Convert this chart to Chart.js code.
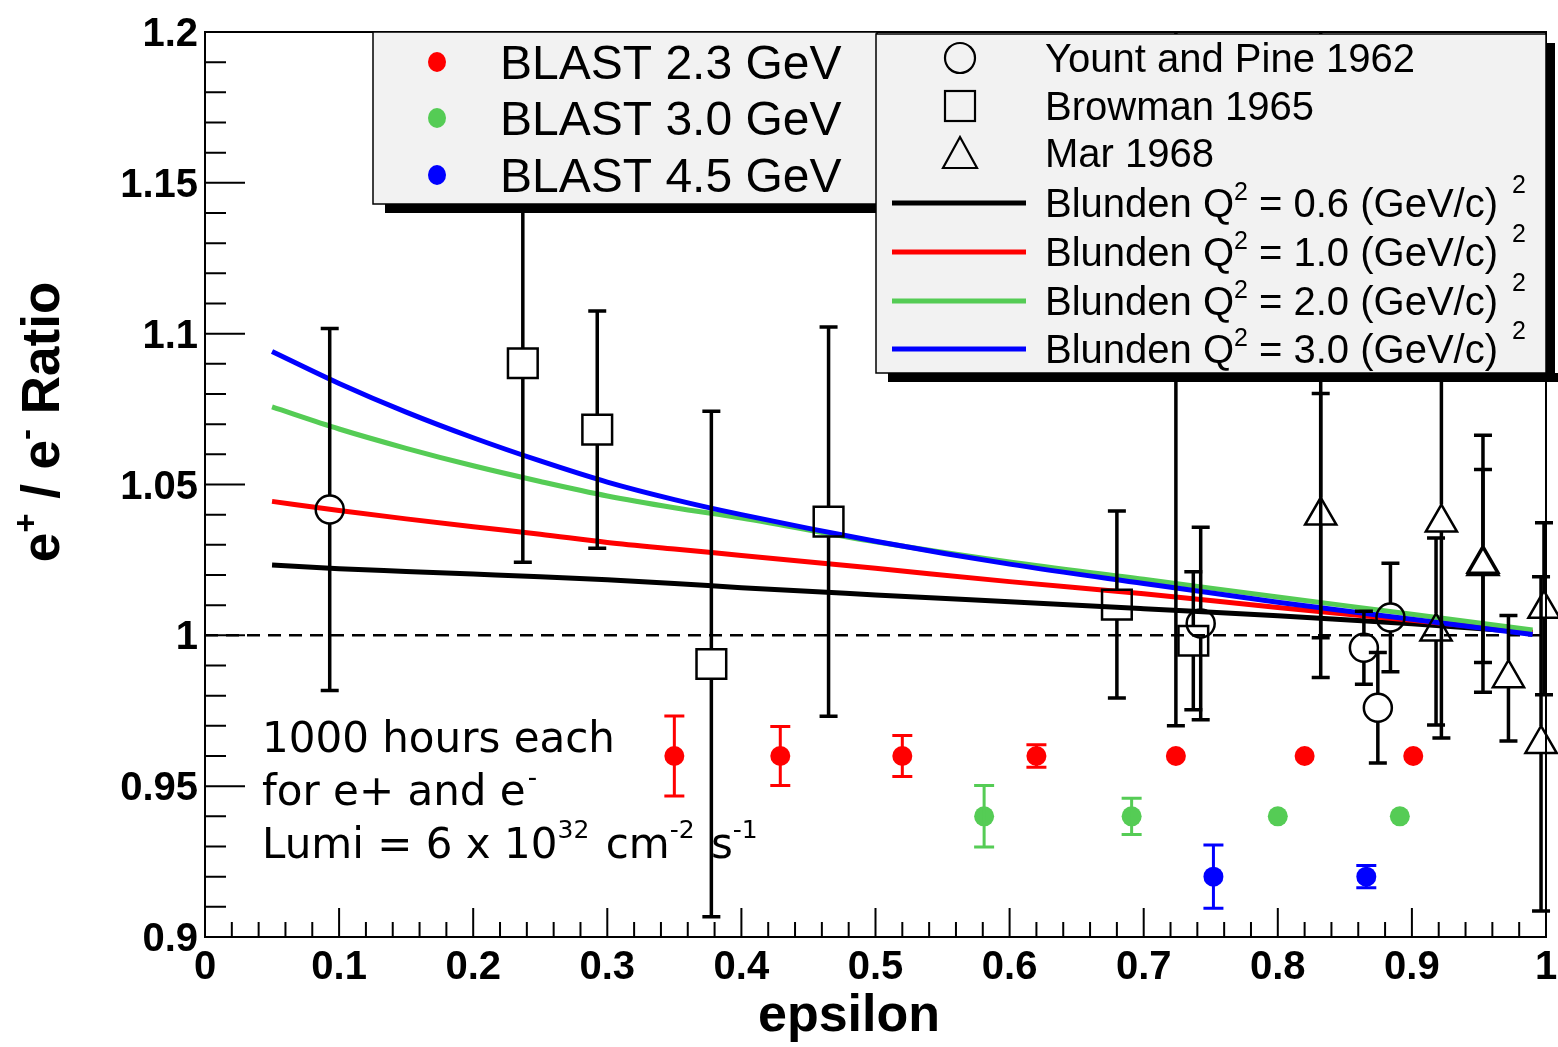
<!DOCTYPE html>
<html>
<head>
<meta charset="utf-8">
<script src="https://cdn.jsdelivr.net/npm/chart.js@4.4.0/dist/chart.umd.min.js"></script>
<style>
html, body { margin: 0; padding: 0; background: #fff; }
#wrap { width: 1558px; height: 1047px; }
</style>
</head>
<body>
<div id="wrap"><canvas id="c" width="1558" height="1047"></canvas></div>
<script>
// Blunden TPE curves
const curveEps  = [0.05, 0.1, 0.15, 0.2, 0.25, 0.3, 0.35, 0.4, 0.5, 0.6, 0.7, 0.8, 0.9, 0.99];
const blunden06 = [1.0233, 1.0221, 1.0212, 1.0203, 1.0194, 1.0184, 1.0172, 1.0158, 1.0134, 1.0111, 1.0088, 1.0065, 1.0038, 1.0010];
const blunden10 = [1.0444, 1.0414, 1.0386, 1.0360, 1.0335, 1.0308, 1.0286, 1.0265, 1.0222, 1.0178, 1.0138, 1.0092, 1.0050, 1.0010];
const blunden20 = [1.0757, 1.0684, 1.0620, 1.0562, 1.0510, 1.0462, 1.0423, 1.0389, 1.0310, 1.0243, 1.0186, 1.0127, 1.0070, 1.0018];
const blunden30 = [1.0941, 1.0835, 1.0740, 1.0655, 1.0578, 1.0508, 1.0450, 1.0400, 1.0312, 1.0236, 1.0172, 1.0110, 1.0053, 1.0003];

// ratio = 1 reference line
const unityEps = [0, 1];
const unityVal = [1, 1];

// BLAST projections
const blast23Eps = [0.35, 0.429, 0.52, 0.62, 0.724, 0.82, 0.901];
const blast23Val = [0.96, 0.96, 0.96, 0.96, 0.96, 0.96, 0.96];
const blast23Err = [0.0133, 0.0098, 0.0068, 0.0037, 0.001, 0.001, 0.001];
const blast30Eps = [0.581, 0.691, 0.80, 0.891];
const blast30Val = [0.94, 0.94, 0.94, 0.94];
const blast30Err = [0.0102, 0.006, 0.001, 0.001];
const blast45Eps = [0.752, 0.866];
const blast45Val = [0.92, 0.92];
const blast45Err = [0.0105, 0.0037];

// old world data
const yountEps = [0.093, 0.7425, 0.8642, 0.8746, 0.884];
const yountVal = [1.0417, 1.0039, 0.9959, 0.976, 1.0059];
const yountErr = [0.060, 0.0319, 0.0121, 0.0183, 0.018];
const browmanEps = [0.237, 0.2925, 0.3776, 0.465, 0.68, 0.737];
const browmanVal = [1.0902, 1.0682, 0.9905, 1.0377, 1.0102, 0.9982];
const browmanErr = [0.066, 0.0393, 0.0838, 0.0645, 0.031, 0.0229];
const marEps = [0.724, 0.832, 0.832, 0.922, 0.918, 0.953, 0.953, 0.972, 0.9985, 0.9963];
const marVal = [1.10, 1.0397, 1.10, 1.0374, 1.0013, 1.0237, 1.0230, 0.9858, 1.0088, 0.964];
const marErr = [0.130, 0.0405, 0.114, 0.0714, 0.031, 0.0426, 0.032, 0.0208, 0.0285, 0.0554];

// axis ticks
const xTickVals = [0, 0.1, 0.2, 0.3, 0.4, 0.5, 0.6, 0.7, 0.8, 0.9, 1];
const xTickLabels = ['0', '0.1', '0.2', '0.3', '0.4', '0.5', '0.6', '0.7', '0.8', '0.9', '1'];
const yTickVals = [0.9, 0.95, 1, 1.05, 1.1, 1.15, 1.2];
const yTickLabels = ['0.9', '0.95', '1', '1.05', '1.1', '1.15', '1.2'];

const RED = '#ff0000', GREEN = '#55cc55', BLUE = '#0000ff';
const SANS = '"Liberation Sans", Arial, sans-serif';

function pts(xs, ys) { return xs.map((x, i) => ({ x: x, y: ys[i] })); }

function curve(label, vals, color, order) {
  return { label, data: pts(curveEps, vals), showLine: true, borderColor: color, borderWidth: 5,
    pointRadius: 0, cubicInterpolationMode: 'monotone', fill: false, order };
}
function blast(label, xs, ys, es, color) {
  return { label, data: pts(xs, ys), errs: es, pointStyle: 'circle', pointRadius: 10,
    backgroundColor: color, borderColor: color, borderWidth: 0,
    barColor: color, barWidth: 3, cap: 10, gapUp: 0, gapDown: 0, minPx: 10, order: 1 };
}
function old(label, xs, ys, es, style, r, gu, gd) {
  return { label, data: pts(xs, ys), errs: es, pointStyle: style, pointRadius: r,
    backgroundColor: 'rgba(0,0,0,0)', borderColor: '#000', borderWidth: 2.5, clip: false,
    barColor: '#000', barWidth: 3.5, cap: 9, gapUp: gu, gapDown: gd, minPx: gu, order: 5 };
}

const datasets = [
  blast('BLAST 2.3 GeV', blast23Eps, blast23Val, blast23Err, RED),
  blast('BLAST 3.0 GeV', blast30Eps, blast30Val, blast30Err, GREEN),
  blast('BLAST 4.5 GeV', blast45Eps, blast45Val, blast45Err, BLUE),
  old('Yount and Pine 1962', yountEps, yountVal, yountErr, 'circle', 14, 14, 14),
  old('Browman 1965', browmanEps, browmanVal, browmanErr, 'rect', 21, 15, 15),
  old('Mar 1968', marEps, marVal, marErr, 'triangle', 18, 18, 9),
  curve('0.6', blunden06, '#000', 13),
  curve('1.0', blunden10, RED, 12),
  curve('2.0', blunden20, GREEN, 11),
  curve('3.0', blunden30, BLUE, 10),
  { label: 'unity', data: pts(unityEps, unityVal), showLine: true, borderColor: '#000', borderWidth: 2.5,
    borderDash: [13, 8], pointRadius: 0, order: 14 }
];

// text with superscripts; parts = [[text, isSup]]
function rich(ctx, parts, x, y, size, weight) {
  let cx = x;
  parts.forEach(([t, sup]) => {
    const s = sup ? Math.round(size * 0.62) : size;
    ctx.font = weight + ' ' + s + 'px ' + SANS;
    ctx.fillText(t, cx, sup ? y - size * 0.42 : y);
    cx += ctx.measureText(t).width;
  });
  return cx;
}
function richWidth(ctx, parts, size, weight) {
  let w = 0;
  parts.forEach(([t, sup]) => {
    ctx.font = weight + ' ' + (sup ? Math.round(size * 0.62) : size) + 'px ' + SANS;
    w += ctx.measureText(t).width;
  });
  return w;
}

const frame = {
  id: 'frame',
  beforeDatasetsDraw(chart) {
    const ctx = chart.ctx, a = chart.chartArea, xs = chart.scales.x, ys = chart.scales.y;
    ctx.save();
    ctx.strokeStyle = '#000';
    ctx.lineWidth = 2;
    ctx.strokeRect(a.left, a.top, a.right - a.left, a.bottom - a.top);
    ctx.beginPath();
    for (let i = 0; i <= 50; i++) {
      const px = xs.getPixelForValue(i * 0.02);
      ctx.moveTo(px, a.bottom);
      ctx.lineTo(px, a.bottom - (i % 5 === 0 ? 29 : 15));
    }
    for (let i = 0; i <= 30; i++) {
      const py = ys.getPixelForValue(0.9 + i * 0.01);
      ctx.moveTo(a.left, py);
      ctx.lineTo(a.left + (i % 5 === 0 ? 40 : 21), py);
    }
    ctx.stroke();
    ctx.restore();
  }
};

const errorBars = {
  id: 'errorBars',
  afterDatasetsDraw(chart) {
    const ctx = chart.ctx, a = chart.chartArea, ys = chart.scales.y;
    ctx.save();
    ctx.beginPath();
    ctx.rect(a.left - 20, a.top, a.right - a.left + 40, a.bottom - a.top);
    ctx.clip();
    chart.data.datasets.forEach((ds, i) => {
      if (!ds.errs) return;
      const meta = chart.getDatasetMeta(i);
      ctx.strokeStyle = ds.barColor;
      ctx.lineWidth = ds.barWidth;
      meta.data.forEach((pt, j) => {
        const v = ds.data[j].y, e = ds.errs[j];
        const x = pt.x, y = pt.y;
        const yTop = ys.getPixelForValue(v + e), yBot = ys.getPixelForValue(v - e);
        if (y - yTop < ds.minPx) return;
        ctx.beginPath();
        ctx.moveTo(x, yTop); ctx.lineTo(x, y - ds.gapUp);
        ctx.moveTo(x, y + ds.gapDown); ctx.lineTo(x, yBot);
        ctx.moveTo(x - ds.cap, yTop); ctx.lineTo(x + ds.cap, yTop);
        ctx.moveTo(x - ds.cap, yBot); ctx.lineTo(x + ds.cap, yBot);
        ctx.stroke();
      });
    });
    ctx.restore();
  }
};

function legendBox(ctx, l, t, r, b) {
  ctx.fillStyle = '#000';
  ctx.fillRect(l + 12, b, r - l, 9);
  ctx.fillRect(r, t + 9, 9, b - t);
  ctx.fillStyle = '#f2f2f2';
  ctx.fillRect(l, t, r - l, b - t);
  ctx.strokeStyle = '#000';
  ctx.lineWidth = 1.5;
  ctx.strokeRect(l, t, r - l, b - t);
}

const overlay = {
  id: 'overlay',
  afterDraw(chart) {
    const ctx = chart.ctx, xs = chart.scales.x, ys = chart.scales.y;
    const ds = chart.data.datasets;
    ctx.save();

    // tick labels
    ctx.fillStyle = '#000';
    ctx.font = 'bold 40px ' + SANS;
    ctx.textAlign = 'center';
    ctx.textBaseline = 'alphabetic';
    xTickVals.forEach((v, i) => ctx.fillText(xTickLabels[i], xs.getPixelForValue(v), 979));
    ctx.textAlign = 'right';
    yTickVals.forEach((v, i) => ctx.fillText(yTickLabels[i], 198, ys.getPixelForValue(v) + 14));

    // axis titles
    ctx.textAlign = 'center';
    ctx.font = 'bold 52px ' + SANS;
    ctx.fillText('epsilon', 849, 1031);
    ctx.textAlign = 'left';
    const yt = [['e', false], ['+', true], [' / e', false], ['-', true], [' Ratio', false]];
    ctx.save();
    ctx.translate(59, 422);
    ctx.rotate(-Math.PI / 2);
    rich(ctx, yt, -richWidth(ctx, yt, 53, 'bold') / 2, 0, 53, 'bold');
    ctx.restore();

    // legend 1: BLAST
    legendBox(ctx, 373, 32, 877, 204);
    [62, 118, 175].forEach((ry, k) => {
      ctx.fillStyle = ds[k].backgroundColor;
      ctx.beginPath();
      ctx.ellipse(437, ry, 9, 10, 0, 0, Math.PI * 2);
      ctx.fill();
      ctx.fillStyle = '#000';
      ctx.font = '48px ' + SANS;
      ctx.fillText(ds[k].label, 500, ry + 17);
    });

    // legend 2: world data and curves
    legendBox(ctx, 876, 34, 1546, 373);
    ctx.strokeStyle = '#000';
    ctx.lineWidth = 2.2;
    ctx.beginPath(); ctx.arc(960, 58, 15, 0, Math.PI * 2); ctx.stroke();
    ctx.strokeRect(945, 91, 30, 30);
    ctx.beginPath();
    ctx.moveTo(960, 137); ctx.lineTo(977, 168); ctx.lineTo(943, 168); ctx.closePath(); ctx.stroke();
    ctx.fillStyle = '#000';
    ctx.font = '40px ' + SANS;
    [58, 106, 153].forEach((ry, k) => ctx.fillText(ds[3 + k].label, 1045, ry + 14));
    [203, 252, 301, 349].forEach((ry, k) => {
      const c = ds[6 + k];
      ctx.strokeStyle = c.borderColor;
      ctx.lineWidth = 5;
      ctx.beginPath(); ctx.moveTo(892, ry); ctx.lineTo(1026, ry); ctx.stroke();
      ctx.fillStyle = '#000';
      const end = rich(ctx, [['Blunden Q', false], ['2', true], [' = ' + c.label + ' (GeV/c)', false]], 1045, ry + 14, 40, 'normal');
      rich(ctx, [['2', true]], end + 14, ry + 7, 40, 'normal');
    });

    // run conditions note
    ctx.fillStyle = '#000';
    ctx.font = '42px "DejaVu Sans"';
    ctx.fillText('1000 hours each', 262, 752);
    let cx = 262;
    ctx.fillText('for e+ and e', cx, 805);
    cx += ctx.measureText('for e+ and e').width;
    ctx.font = '26px "DejaVu Sans"';
    ctx.fillText('-', cx + 2, 786);
    const lumi = [['Lumi = 6 x 10', 42, 0], ['32', 25, -20], [' cm', 42, 0], ['-2', 25, -20], [' s', 42, 0], ['-1', 25, -20]];
    cx = 262;
    lumi.forEach(([t, s, dy]) => {
      ctx.font = s + 'px "DejaVu Sans"';
      ctx.fillText(t, cx, 858 + dy);
      cx += ctx.measureText(t).width + (s < 30 ? 3 : 0);
    });
    ctx.restore();
  }
};

new Chart(document.getElementById('c'), {
  type: 'scatter',
  data: { datasets },
  options: {
    responsive: false,
    animation: false,
    devicePixelRatio: 1,
    events: [],
    layout: { autoPadding: false, padding: { left: 205, right: 12, top: 32, bottom: 110 } },
    scales: {
      x: { type: 'linear', min: 0, max: 1, display: false },
      y: { type: 'linear', min: 0.9, max: 1.2, display: false }
    },
    plugins: { legend: { display: false }, tooltip: { enabled: false } }
  },
  plugins: [frame, errorBars, overlay]
});
</script>
</body>
</html>
